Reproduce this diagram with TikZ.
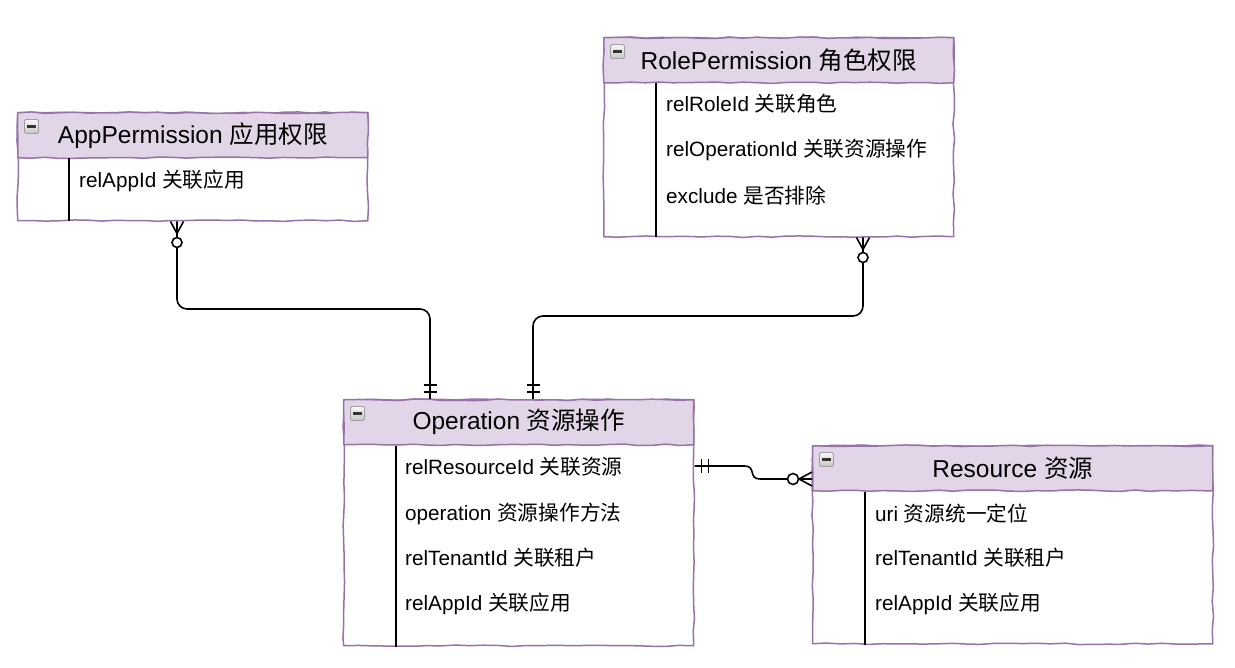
\documentclass[tikz,border=0pt]{standalone}
\usepackage{fontspec}
\setmainfont{Liberation Sans}
\newfontfamily\cjk{Noto Sans CJK SC}
\usetikzlibrary{calc,decorations.pathmorphing}
\definecolor{hdrfill}{HTML}{E1D5E7}
\definecolor{hdrdraw}{HTML}{9673A6}
\tikzset{
  wobble/.style={decorate, decoration={random steps, segment length=14pt, amplitude=0.8pt}},
  entbox/.style={draw=hdrdraw, line width=1.5pt, line join=round, fill=white, anchor=north west, inner sep=0pt, minimum width=350pt, wobble},
  hdr/.style={draw=hdrdraw, line width=1.5pt, line join=round, fill=hdrfill, anchor=north west, inner sep=0pt, minimum width=350pt, minimum height=45pt, font=\fontsize{24.5}{28}\selectfont, wobble},
  row/.style={anchor=west, inner sep=0pt, font=\fontsize{20.7}{24}\selectfont},
  sepline/.style={draw=black, line width=1.5pt},
  conn/.style={draw=black, line width=1.6pt, rounded corners=10pt},
  crow/.style={draw=black, line width=1.6pt},
  zcircle/.style={draw=black, line width=1.6pt, fill=white},
  icon/.style={draw=gray!75, rounded corners=1.5pt, top color=gray!5, bottom color=gray!45, minimum size=14pt, inner sep=0pt, line width=0.9pt},
  iconbar/.style={draw=black!80, line width=2.4pt}
}
\begin{document}
\begin{tikzpicture}[x=1pt,y=-1pt]
\pgfmathsetseed{7}
\path[use as bounding box] (0,0) rectangle (1235,668);

% ---------- AppPermission ----------
\node[entbox, minimum height=108pt] (app) at (17,112) {};
\node[hdr] (apph) at (app.north west) {AppPermission {\cjk 应用权限}};
\node[icon] (appicon) at ($(apph.north west)+(14.5,14.5)$) {};
\draw[iconbar] ([xshift=3pt]appicon.west) -- ([xshift=-3pt]appicon.east);
\draw[sepline] ([xshift=52pt]apph.south west) -- ([xshift=52pt]app.south west);
\node[row] (app1) at (79,181) {relAppId {\cjk 关联应用}};

% ---------- RolePermission ----------
\node[entbox, minimum height=199pt] (role) at (603,37) {};
\node[hdr] (roleh) at (role.north west) {RolePermission {\cjk 角色权限}};
\node[icon] (roleicon) at ($(roleh.north west)+(14.5,14.5)$) {};
\draw[iconbar] ([xshift=3pt]roleicon.west) -- ([xshift=-3pt]roleicon.east);
\draw[sepline] ([xshift=53pt]roleh.south west) -- ([xshift=53pt]role.south west);
\node[row] (role1) at (666,104) {relRoleId {\cjk 关联角色}};
\node[row] (role2) at (666,150) {relOperationId {\cjk 关联资源操作}};
\node[row] (role3) at (666,196) {exclude {\cjk 是否排除}};

% ---------- Operation ----------
\node[entbox, minimum height=246pt] (op) at (343,399) {};
\node[hdr] (oph) at (op.north west) {Operation {\cjk 资源操作}};
\node[icon] (opicon) at ($(oph.north west)+(14.5,14.5)$) {};
\draw[iconbar] ([xshift=3pt]opicon.west) -- ([xshift=-3pt]opicon.east);
\draw[sepline] ([xshift=53pt]oph.south west) -- ([xshift=53pt]op.south west);
\node[row] (op1) at (405,467) {relResourceId {\cjk 关联资源}};
\node[row] (op2) at (405,514) {operation {\cjk 资源操作方法}};
\node[row] (op3) at (405,558) {relTenantId {\cjk 关联租户}};
\node[row] (op4) at (405,604) {relAppId {\cjk 关联应用}};

% ---------- Resource ----------
\node[entbox, minimum width=400pt, minimum height=198pt] (res) at (812,445) {};
\node[hdr, minimum width=400pt] (resh) at (res.north west) {Resource {\cjk 资源}};
\node[icon] (resicon) at ($(resh.north west)+(14.5,14.5)$) {};
\draw[iconbar] ([xshift=3pt]resicon.west) -- ([xshift=-3pt]resicon.east);
\draw[sepline] ([xshift=53pt]resh.south west) -- ([xshift=53pt]res.south west);
\node[row] (res1) at (875,514) {uri {\cjk 资源统一定位}};
\node[row] (res2) at (875,558) {relTenantId {\cjk 关联租户}};
\node[row] (res3) at (875,604) {relAppId {\cjk 关联应用}};

% ---------- connector AppPermission -> Operation ----------
\coordinate (a1) at ([xshift=160pt]app.south west);
\coordinate (o1) at ([xshift=87pt]op.north west);
\draw[conn] (a1) |- ($(o1)+(0,-90)$) -- (o1);
\draw[crow] ($(a1)+(-6.5,0)$) -- ($(a1)+(0,12)$) -- ($(a1)+(6.5,0)$);
\draw[zcircle] ($(a1)+(0,21)$) circle[radius=5pt];
\draw[crow] ($(o1)+(-6.5,-14)$) -- ($(o1)+(6.5,-14)$);
\draw[crow] ($(o1)+(-6.5,-7)$) -- ($(o1)+(6.5,-7)$);

% ---------- connector RolePermission -> Operation ----------
\coordinate (r2) at ([xshift=260pt]role.south west);
\coordinate (o2) at ([xshift=190pt]op.north west);
\draw[conn] (r2) |- ($(o2)+(0,-83)$) -- (o2);
\draw[crow] ($(r2)+(-6.5,0)$) -- ($(r2)+(0,12)$) -- ($(r2)+(6.5,0)$);
\draw[zcircle] ($(r2)+(0,20)$) circle[radius=5pt];
\draw[crow] ($(o2)+(-6.5,-14)$) -- ($(o2)+(6.5,-14)$);
\draw[crow] ($(o2)+(-6.5,-7)$) -- ($(o2)+(6.5,-7)$);

% ---------- connector Operation -> Resource ----------
\coordinate (o3) at ([yshift=-67pt]op.north east);
\coordinate (r3) at ([yshift=-34pt]res.north west);
\draw[crow] (o3) -- ($(o3)+(50,0)$) .. controls ($(o3)+(62,0)$) and ($(r3)+(-64,0)$) .. ($(r3)+(-52,0)$) -- (r3);
\draw[crow] ($(o3)+(7,-7)$) -- ($(o3)+(7,7)$);
\draw[crow] ($(o3)+(14,-7)$) -- ($(o3)+(14,7)$);
\draw[crow] ($(r3)+(0,-7)$) -- ($(r3)+(-13,0)$) -- ($(r3)+(0,7)$);
\draw[zcircle] ($(r3)+(-19,0)$) circle[radius=5.5pt];
\end{tikzpicture}
\end{document}
